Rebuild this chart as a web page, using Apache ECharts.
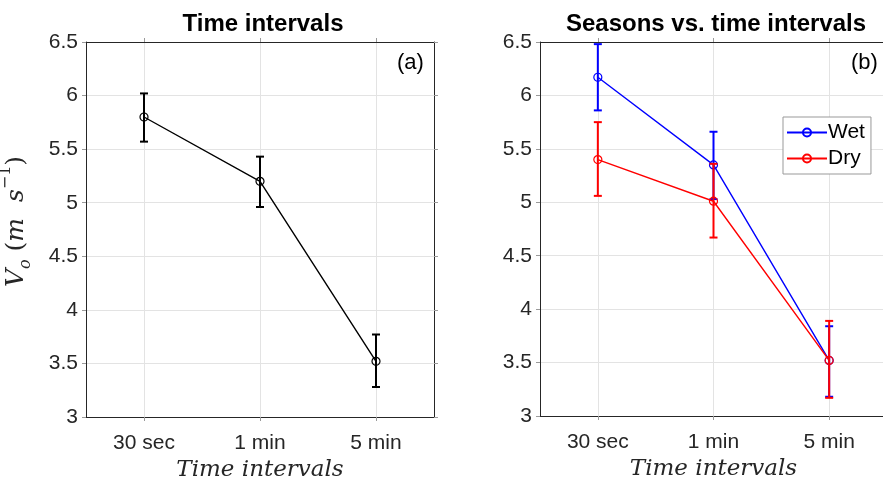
<!DOCTYPE html>
<html>
<head>
<meta charset="utf-8">
<script src="https://cdn.jsdelivr.net/npm/echarts@6/dist/echarts.min.js"></script>
<style>html,body{margin:0;padding:0;background:#fff;}#c{width:883px;height:479px;}</style>
</head>
<body>
<div id="c"></div>
<script>
// ---- data ----
var categories = ['30 sec', '1 min', '5 min'];
var yTicks = [3, 3.5, 4, 4.5, 5, 5.5, 6, 6.5];
var allMean = [5.80, 5.20, 3.52];
var allLow  = [5.57, 4.96, 3.28];
var allHigh = [6.02, 5.43, 3.77];
var wetMean = [6.17, 5.35, 3.52];
var wetLow  = [5.86, 5.03, 3.18];
var wetHigh = [6.48, 5.66, 3.84];
var dryMean = [5.40, 5.01, 3.52];
var dryLow  = [5.06, 4.67, 3.17];
var dryHigh = [5.75, 5.36, 3.89];

var FONT = 'Liberation Sans, Arial, Helvetica, sans-serif';
var SERIF = 'DejaVu Serif, Liberation Serif, serif';
var TXT = '#262626';
var AX = '#262626';
var TICK = '#9a9a9a';

function pts(mean) { return mean.map(function (v, i) { return [i + 1, v]; }); }
function errs(low, high) { return low.map(function (v, i) { return [i + 1, v, high[i]]; }); }

function errRender(color) {
  return function (params, api) {
    var x = api.value(0);
    var lo = api.coord([x, api.value(1)]);
    var hi = api.coord([x, api.value(2)]);
    var h = 4;
    var st = { stroke: color, lineWidth: 2 };
    return {
      type: 'group',
      children: [
        { type: 'line', shape: { x1: lo[0], y1: lo[1], x2: hi[0], y2: hi[1] }, style: st },
        { type: 'line', shape: { x1: lo[0] - h, y1: lo[1], x2: lo[0] + h, y2: lo[1] }, style: st },
        { type: 'line', shape: { x1: hi[0] - h, y1: hi[1], x2: hi[0] + h, y2: hi[1] }, style: st }
      ]
    };
  };
}

var tickVals = [1, 2, 3];
function xAxes(gi) {
  return [
    {
      type: 'value', gridIndex: gi, min: 0.5, max: 3.5, position: 'bottom',
      axisLine: { show: true, lineStyle: { color: AX, width: 1 } },
      axisTick: { show: true, inside: false, length: 4, customValues: tickVals, lineStyle: { color: TICK } },
      axisLabel: { show: true, customValues: tickVals, margin: 16, color: TXT, fontSize: 21, fontFamily: FONT,
        formatter: function (v) { return categories[Math.round(v) - 1] || ''; } },
      splitLine: { show: true, lineStyle: { color: '#e3e3e3', width: 1 } },
      name: 'Time intervals', nameLocation: 'middle', nameGap: 38,
      nameTextStyle: { fontFamily: SERIF, fontStyle: 'italic', fontSize: 23, color: TXT }
    },
    {
      type: 'value', gridIndex: gi, min: 0.5, max: 3.5, position: 'top',
      axisLine: { show: true, lineStyle: { color: AX, width: 1 } },
      axisTick: { show: true, inside: false, length: 4, customValues: tickVals, lineStyle: { color: TICK } },
      axisLabel: { show: false }, splitLine: { show: false }
    }
  ];
}
function yAxes(gi, withName) {
  var a = {
    type: 'value', gridIndex: gi, min: 3, max: 6.5, interval: 0.5, position: 'left',
    axisLine: { show: true, lineStyle: { color: AX, width: 1 } },
    axisTick: { show: true, inside: false, length: 4, lineStyle: { color: TICK } },
    axisLabel: { show: true, margin: 8, color: TXT, fontSize: 21, fontFamily: FONT },
    splitLine: { show: true, lineStyle: { color: '#e3e3e3', width: 1 } }
  };
  if (withName) {
    a.name = '{v|V}{sub|o}{p| (}{m|m  s}{sup|−1}{p|)}';
    a.nameLocation = 'middle';
    a.nameGap = 52;
    a.nameRotate = 90;
    a.nameTextStyle = {
      color: TXT,
      padding: [0, 0, 0, 16],
      rich: {
        v: { fontFamily: SERIF, fontStyle: 'italic', fontSize: 25, color: TXT },
        sub: { fontFamily: SERIF, fontStyle: 'italic', fontSize: 16, color: TXT, verticalAlign: 'bottom', lineHeight: 36 },
        p: { fontFamily: SERIF, fontSize: 25, color: TXT },
        m: { fontFamily: SERIF, fontStyle: 'italic', fontSize: 25, color: TXT },
        sup: { fontFamily: SERIF, fontSize: 16, color: TXT, verticalAlign: 'top', lineHeight: 36 }
      }
    };
  }
  return [a, {
    type: 'value', gridIndex: gi, min: 3, max: 6.5, interval: 0.5, position: 'right',
    axisLine: { show: true, lineStyle: { color: AX, width: 1 } },
    axisTick: { show: true, inside: false, length: 4, lineStyle: { color: TICK } },
    axisLabel: { show: false }, splitLine: { show: false }
  }];
}

function lineSeries(name, data, color, xi, yi, z) {
  return {
    type: 'line', name: name, data: data, xAxisIndex: xi, yAxisIndex: yi, z: z,
    symbol: 'circle', symbolSize: 8, showAllSymbol: true,
    lineStyle: { color: color, width: 1.4 },
    itemStyle: { color: 'rgba(0,0,0,0)', borderColor: color, borderWidth: 1.2 },
    emphasis: { disabled: true }, animation: false
  };
}
function errSeries(low, high, color, xi, yi, z) {
  return {
    type: 'custom', data: errs(low, high), xAxisIndex: xi, yAxisIndex: yi, z: z,
    renderItem: errRender(color), animation: false, silent: true
  };
}

var chart = echarts.init(document.getElementById('c'), null, { renderer: 'canvas' });
var option = {
  backgroundColor: '#fff',
  animation: false,
  title: [
    { text: 'Time intervals', left: 258, top: 7, textAlign: 'center',
      textStyle: { fontFamily: FONT, fontWeight: 'bold', fontSize: 24, color: '#000' } },
    { text: 'Seasons vs. time intervals', left: 711, top: 7, textAlign: 'center',
      textStyle: { fontFamily: FONT, fontWeight: 'bold', fontSize: 24, color: '#000' } }
  ],
  grid: [
    { left: 86, top: 42, width: 348, height: 375, outerBoundsMode: 'none', containLabel: false },
    { left: 540, top: 42, width: 347, height: 374, outerBoundsMode: 'none', containLabel: false }
  ],
  xAxis: xAxes(0).concat(xAxes(1)),
  yAxis: yAxes(0, true).concat(yAxes(1, false)),
  legend: {
    data: ['Wet', 'Dry'], orient: 'vertical', left: 783, top: 117,
    itemWidth: 40, itemHeight: 10, itemGap: 5,
    padding: [5, 6, 5, 3],
    borderColor: '#999999', borderWidth: 1, backgroundColor: '#fff',
    textStyle: { fontFamily: FONT, fontSize: 21, color: '#000', padding: [0, 0, 0, -4] },
    selectedMode: false
  },
  graphic: [
    { type: 'text', left: 397, top: 52, style: { text: '(a)', font: '22px ' + FONT, fill: '#000' } },
    { type: 'text', left: 851, top: 52, style: { text: '(b)', font: '22px ' + FONT, fill: '#000' } }
  ],
  series: [
    errSeries(allLow, allHigh, '#000', 0, 0, 3),
    lineSeries('All', pts(allMean), '#000', 0, 0, 3),
    errSeries(wetLow, wetHigh, '#0000ff', 2, 2, 3),
    lineSeries('Wet', pts(wetMean), '#0000ff', 2, 2, 3),
    errSeries(dryLow, dryHigh, '#ff0000', 2, 2, 4),
    lineSeries('Dry', pts(dryMean), '#ff0000', 2, 2, 4)
  ]
};
chart.setOption(option);
</script>
</body>
</html>
